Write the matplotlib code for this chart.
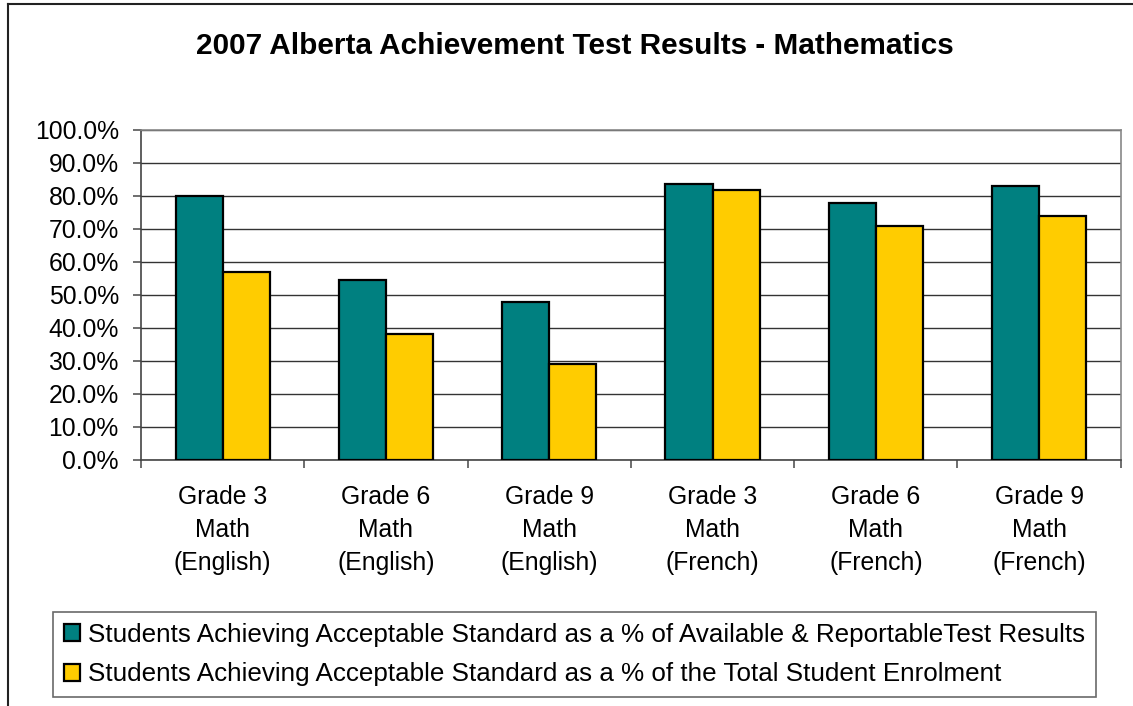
import matplotlib
matplotlib.use("Agg")
import matplotlib.pyplot as plt
import numpy as np
from matplotlib.lines import Line2D
from matplotlib.ticker import FuncFormatter, MultipleLocator

categories = ["Grade 3\nMath\n(English)", "Grade 6\nMath\n(English)", "Grade 9\nMath\n(English)",
              "Grade 3\nMath\n(French)", "Grade 6\nMath\n(French)", "Grade 9\nMath\n(French)"]
series_names = ["Students Achieving Acceptable Standard as a % of Available & ReportableTest Results",
                "Students Achieving Acceptable Standard as a % of the Total Student Enrolment"]
available_pct = [80.1, 54.6, 47.8, 83.6, 77.7, 83.1]
enrolment_pct = [57.0, 38.2, 29.1, 81.8, 70.9, 73.9]
colors = ["#008080", "#FFCC00"]

plt.rcParams['font.family'] = ['Liberation Sans', 'DejaVu Sans']

fig = plt.figure(figsize=(11.33, 7.06), dpi=100)
ax = fig.add_axes([0.1245, 0.3489, 0.9892 - 0.1245, 0.8159 - 0.3489])

x = np.arange(len(categories))
w = 0.289
ax.bar(x - w / 2, available_pct, w, color=colors[0], edgecolor="black", linewidth=1.6,
       label=series_names[0], zorder=3)
ax.bar(x + w / 2, enrolment_pct, w, color=colors[1], edgecolor="black", linewidth=1.6,
       label=series_names[1], zorder=3)

ax.set_xlim(-0.5, len(categories) - 0.5)
ax.set_ylim(0, 100)
ax.yaxis.set_major_locator(MultipleLocator(10))
ax.yaxis.set_major_formatter(FuncFormatter(lambda v, p: f"{v:.1f}%"))
ax.grid(axis="y", color="#333333", linewidth=1.0, zorder=0)

ax.set_xticks(x)
ax.set_xticklabels(categories, fontsize=17.8, linespacing=1.47)
ax.set_xticks(np.arange(-0.5, len(categories)), minor=True)
ax.tick_params(axis="x", which="major", length=0, pad=18)
ax.tick_params(axis="x", which="minor", length=6, width=1.2, color="#555555", direction="out")
ax.tick_params(axis="y", length=6, width=1.2, color="#555555", labelsize=17.8, pad=10)

for s in ["top", "right"]:
    ax.spines[s].set_color("#888888")
    ax.spines[s].set_linewidth(1.2)
ax.spines["left"].set_color("#444444")
ax.spines["left"].set_linewidth(1.2)
ax.spines["bottom"].set_color("#444444")
ax.spines["bottom"].set_linewidth(1.2)

fig.text(575 / 1133, 1 - 46 / 706, "2007 Alberta Achievement Test Results - Mathematics",
         ha="center", va="center", fontsize=21.4, fontweight="bold")

leg = fig.legend(loc="upper left", bbox_to_anchor=(52.7 / 1133, 1 - 612 / 706),
                 fontsize=18.7, frameon=True, fancybox=False, edgecolor="#444444",
                 handlelength=0.62, handleheight=0.62, handletextpad=0.3, labelspacing=0.6,
                 borderpad=0.42, borderaxespad=0)
leg.get_frame().set_linewidth(1.2)

# outer chart border (top and left visible)
fig.add_artist(Line2D([8 / 1133, 1.0], [1 - 4 / 706, 1 - 4 / 706], transform=fig.transFigure,
                      color="#222222", linewidth=1.5))
fig.add_artist(Line2D([8 / 1133, 8 / 1133], [1 - 4 / 706, 0.0], transform=fig.transFigure,
                      color="#222222", linewidth=1.5))

fig.savefig("out.png", dpi=100)
